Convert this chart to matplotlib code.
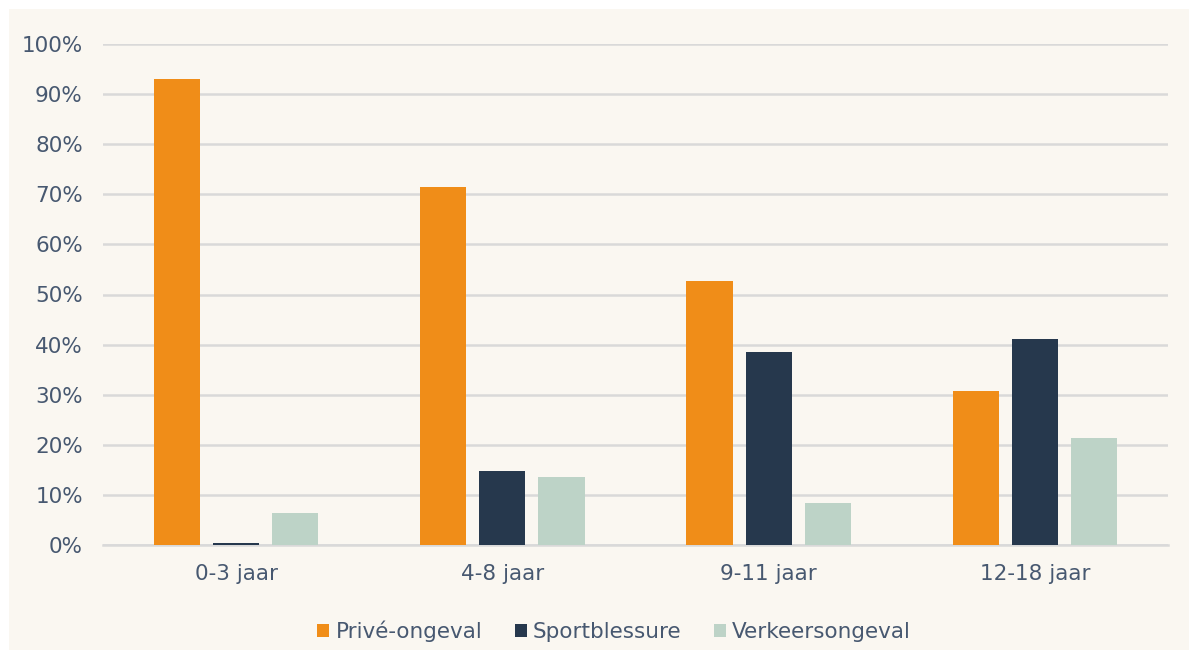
import matplotlib.pyplot as plt
import numpy as np
from matplotlib import patches

categories = ['0-3 jaar', '4-8 jaar', '9-11 jaar', '12-18 jaar']
prive = [93.0, 71.4, 52.7, 30.7]
sport = [0.4, 14.8, 38.5, 41.2]
verkeer = [6.4, 13.5, 8.4, 21.3]
series_names = ['Privé-ongeval', 'Sportblessure', 'Verkeersongeval']
yticks = np.arange(0, 101, 10)

colors = ['#F08D18', '#26384D', '#BDD3C7']
bg = '#FAF7F1'
text_color = '#475870'

plt.rcParams['font.family'] = ['DejaVu Sans']

fig = plt.figure(figsize=(11.99, 6.59), dpi=100)
fig.patch.set_facecolor('white')
# beige panel with a thin white border
fig.patches.append(patches.Rectangle((9 / 1199, 9 / 659), 1180 / 1199, 641 / 659,
                                     transform=fig.transFigure, facecolor=bg,
                                     edgecolor='none', zorder=-10))

ax = fig.add_axes([103 / 1199, 1 - 545 / 659, 1065 / 1199, 501 / 659])
ax.set_facecolor(bg)

x = np.arange(len(categories))
w = 0.173
step = 0.222
for i, (vals, name) in enumerate(zip([prive, sport, verkeer], series_names)):
    ax.bar(x + (i - 1) * step, vals, w, color=colors[i], label=name, zorder=3)

ax.set_xlim(-0.5, len(categories) - 0.5)
ax.set_ylim(0, 100)
ax.set_yticks(yticks)
ax.set_yticklabels([f'{v}%' for v in yticks])
ax.set_xticks(x)
ax.set_xticklabels(categories)
ax.yaxis.grid(True, color='#D9D9D9', linewidth=1.8, zorder=0)
ax.set_axisbelow(True)
for s in ['top', 'right', 'left']:
    ax.spines[s].set_visible(False)
ax.spines['bottom'].set_color('#D9D9D9')
ax.spines['bottom'].set_linewidth(1.8)
ax.tick_params(axis='both', length=0, colors=text_color, labelsize=15.5)
ax.tick_params(axis='y', pad=14.5)
ax.tick_params(axis='x', pad=14)

leg = ax.legend(loc='center', bbox_to_anchor=(0.48, -0.172), ncol=3, frameon=False,
                fontsize=15.5, handlelength=0.55, handleheight=0.55, handletextpad=0.3,
                columnspacing=1.5)
for t in leg.get_texts():
    t.set_color(text_color)

fig.savefig('out.png', dpi=100, facecolor=fig.get_facecolor())
